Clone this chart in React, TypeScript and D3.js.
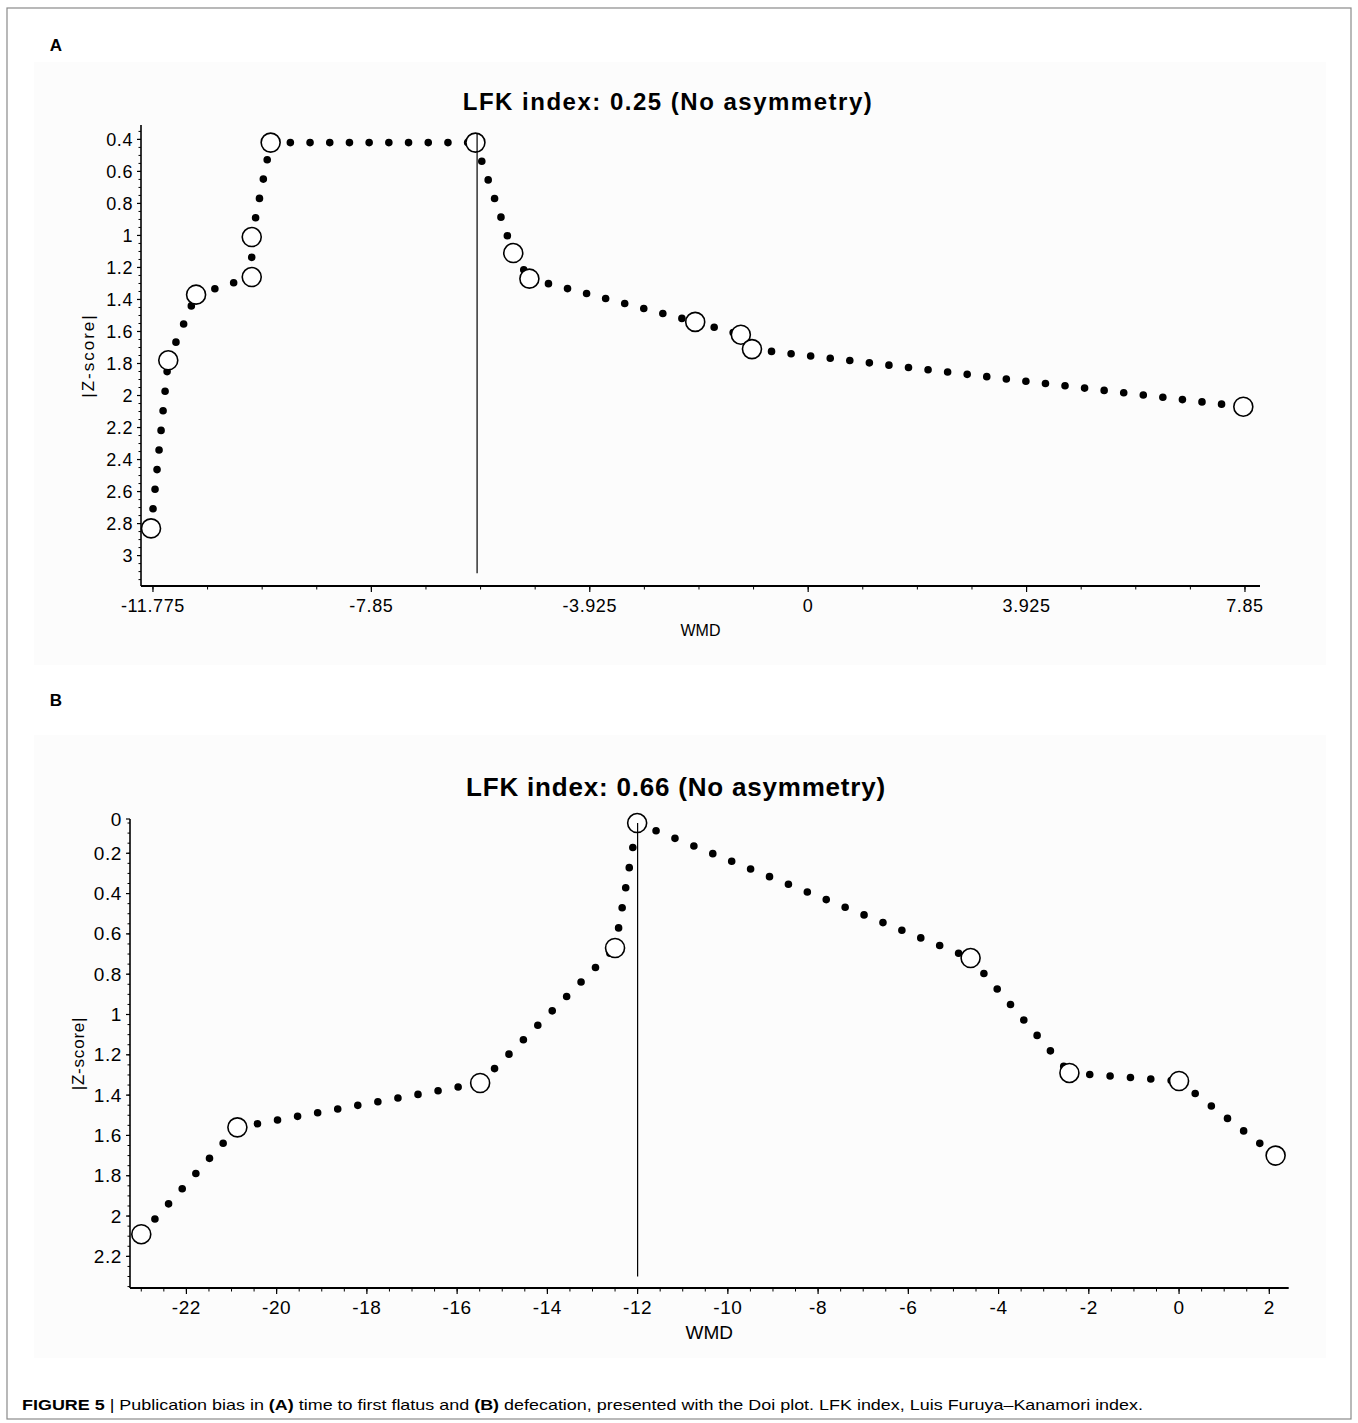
import React from 'react';
import * as d3 from 'd3';

// panel A: time to first flatus
const studyWmdA = [-11.81, -11.5, -11.0, -10.0, -10.0, -9.66, -5.98, -5.3, -5.01, -2.03, -1.21, -1.01, 7.82];
const studyZA = [2.83, 1.78, 1.37, 1.26, 1.01, 0.42, 0.42, 1.11, 1.27, 1.54, 1.62, 1.71, 2.07];
const refLineA = { wmd: -5.95, z0: 0.36, z1: 3.11 };
const xTicksA = [-11.775, -7.85, -3.925, 0, 3.925, 7.85];
const xTickLabelsA = ['-11.775', '-7.85', '-3.925', '0', '3.925', '7.85'];
const yTicksA = [0.4, 0.6, 0.8, 1, 1.2, 1.4, 1.6, 1.8, 2, 2.2, 2.4, 2.6, 2.8, 3];
const titleA = 'LFK index: 0.25 (No asymmetry)';

// panel B: defecation
const studyWmdB = [-23.0, -20.87, -15.49, -12.5, -12.01, -4.62, -2.43, 0.0, 2.14];
const studyZB = [2.09, 1.56, 1.34, 0.67, 0.05, 0.72, 1.29, 1.33, 1.7];
const refLineB = { wmd: -12.0, z0: 0.05, z1: 2.3 };
const xTicksB = [-22, -20, -18, -16, -14, -12, -10, -8, -6, -4, -2, 0, 2];
const yTicksB = [0, 0.2, 0.4, 0.6, 0.8, 1, 1.2, 1.4, 1.6, 1.8, 2, 2.2];
const titleB = 'LFK index: 0.66 (No asymmetry)';

const FONT = '"Liberation Sans", Arial, Helvetica, sans-serif';

type PanelProps = {
  wmd: number[];
  z: number[];
  vline: { wmd: number; z0: number; z1: number };
  xDomain: [number, number];
  xRange: [number, number];
  yDomain: [number, number];
  yRange: [number, number];
  xTicks: number[];
  xLabels: string[];
  xMinor: number[];
  yTicks: number[];
  yMinor: number[];
  title: string;
  titleX: number;
  titleY: number;
  titleSize: number;
  titleSpacing: number;
  dotGap: number;
  yLabelX: number;
  yLabelSpacing: number;
  xLabelY: number;
  tickFont: number;
  wmdSize: number;
};

function Panel(p: PanelProps) {
  const x = d3.scaleLinear().domain(p.xDomain).range(p.xRange);
  const y = d3.scaleLinear().domain(p.yDomain).range(p.yRange).clamp(true);
  const pts = p.wmd.map((w, i) => ({ w, z: p.z[i] }));
  const segs = d3.pairs(pts);
  const [x0, x1] = p.xRange;
  const [y0, y1] = p.yRange;
  const fmt = d3.format('');
  return (
    <g fontFamily={FONT}>
      <text x={p.titleX} y={p.titleY} textAnchor="middle" fontWeight="bold" fontSize={p.titleSize}
        letterSpacing={p.titleSpacing}>{p.title}</text>

      {/* dotted connecting line, one run per pair of studies */}
      {segs.map(([a, b], i) => (
        <line key={'s' + i} x1={x(a.w)} y1={y(a.z)} x2={x(b.w)} y2={y(b.z)} stroke="#000" strokeWidth={7.6}
          strokeLinecap="round" strokeDasharray={`0 ${p.dotGap}`} />
      ))}
      {pts.map((d, i) => (
        <circle key={'c' + i} cx={x(d.w)} cy={y(d.z)} r={9.5} fill="#fff" stroke="#000" strokeWidth={1.6} />
      ))}
      <line x1={x(p.vline.wmd)} x2={x(p.vline.wmd)} y1={y(p.vline.z0)} y2={y(p.vline.z1)} stroke="#000" strokeWidth={1.2} />

      {/* axes */}
      <line x1={x0} x2={x1} y1={y1} y2={y1} stroke="#000" strokeWidth={2} />
      <line x1={x0} x2={x0} y1={y0} y2={y1} stroke="#000" strokeWidth={1.6} />
      {p.xMinor.map((t, i) => (
        <line key={'xm' + i} x1={x(t)} x2={x(t)} y1={y1} y2={y1 + 3.5} stroke="#000" strokeWidth={1} />
      ))}
      {p.xTicks.map((t, i) => (
        <g key={'xt' + i}>
          <line x1={x(t)} x2={x(t)} y1={y1} y2={y1 + 6} stroke="#000" strokeWidth={1.2} />
          <text x={x(t)} y={y1 + 26} textAnchor="middle" fontSize={p.tickFont} letterSpacing={0.6}>{p.xLabels[i]}</text>
        </g>
      ))}
      {p.yMinor.map((t, i) => (
        <line key={'ym' + i} x1={x0 - 2.5} x2={x0} y1={y(t)} y2={y(t)} stroke="#000" strokeWidth={1} />
      ))}
      {p.yTicks.map((t, i) => (
        <g key={'yt' + i}>
          <line x1={x0 - 4} x2={x0} y1={y(t)} y2={y(t)} stroke="#000" strokeWidth={1.2} />
          <text x={x0 - 8} y={y(t) + 6.5} textAnchor="end" fontSize={p.tickFont} letterSpacing={0.6}>{fmt(t)}</text>
        </g>
      ))}
      <text transform={`translate(${p.yLabelX},${(y0 + y1) / 2}) rotate(-90)`} textAnchor="middle" fontSize={17}
        letterSpacing={p.yLabelSpacing}>|Z-score|</text>
      <text x={(x0 + x1) / 2} y={p.xLabelY} textAnchor="middle" fontSize={p.wmdSize}>WMD</text>
    </g>
  );
}

export default function App() {
  const minorA = d3.range(0, 21).map(k => -11.775 + k * 0.98125);
  const yMinorA = d3.range(7, 64).map(k => k * 0.05);
  const minorB = d3.range(-46, 5).map(k => k * 0.5);
  const yMinorB = d3.range(1, 48).map(k => k * 0.05);
  return (
    <svg width={1358} height={1423} style={{ position: 'absolute', left: 0, top: 0, background: '#fff' }}>
      <rect x={0} y={0} width={1358} height={1423} fill="#fff" />
      <rect x={7} y={8} width={1344} height={1411} fill="none" stroke="#8a8a8a" strokeWidth={1.2} />
      <rect x={34} y={62} width={1292} height={603} fill="#fcfcfc" />
      <rect x={34} y={735} width={1292} height={623} fill="#fcfcfc" />

      <text x={56} y={51} fontFamily={FONT} fontWeight="bold" fontSize={17} textAnchor="middle">A</text>
      <text x={56} y={706} fontFamily={FONT} fontWeight="bold" fontSize={17} textAnchor="middle">B</text>

      <Panel wmd={studyWmdA} z={studyZA} vline={refLineA}
        xDomain={[-11.99, 8.12]} xRange={[141, 1260]} yDomain={[0.31, 3.19]} yRange={[125, 586]}
        xTicks={xTicksA} xLabels={xTickLabelsA} xMinor={minorA} yTicks={yTicksA} yMinor={yMinorA}
        title={titleA} titleX={668} titleY={110} titleSize={24} titleSpacing={1.5} dotGap={19.7}
        yLabelX={94} yLabelSpacing={2} xLabelY={636} tickFont={18} wmdSize={16} />

      <Panel wmd={studyWmdB} z={studyZB} vline={refLineB}
        xDomain={[-23.25, 2.43]} xRange={[130, 1288.7]} yDomain={[0.03, 2.357]} yRange={[819, 1288]}
        xTicks={xTicksB} xLabels={xTicksB.map(String)} xMinor={minorB} yTicks={yTicksB} yMinor={yMinorB}
        title={titleB} titleX={676} titleY={796} titleSize={26} titleSpacing={0.8} dotGap={20.4}
        yLabelX={84} yLabelSpacing={0.8} xLabelY={1339} tickFont={19} wmdSize={19} />

      <text x={22} y={1410} fontFamily={FONT} fontSize={15} textLength={1121} lengthAdjust="spacingAndGlyphs">
        <tspan fontWeight="bold">FIGURE 5</tspan> | Publication bias in <tspan fontWeight="bold">(A)</tspan> time to
        first flatus and <tspan fontWeight="bold">(B)</tspan> defecation, presented with the Doi plot. LFK index, Luis
        Furuya–Kanamori index.
      </text>
    </svg>
  );
}
